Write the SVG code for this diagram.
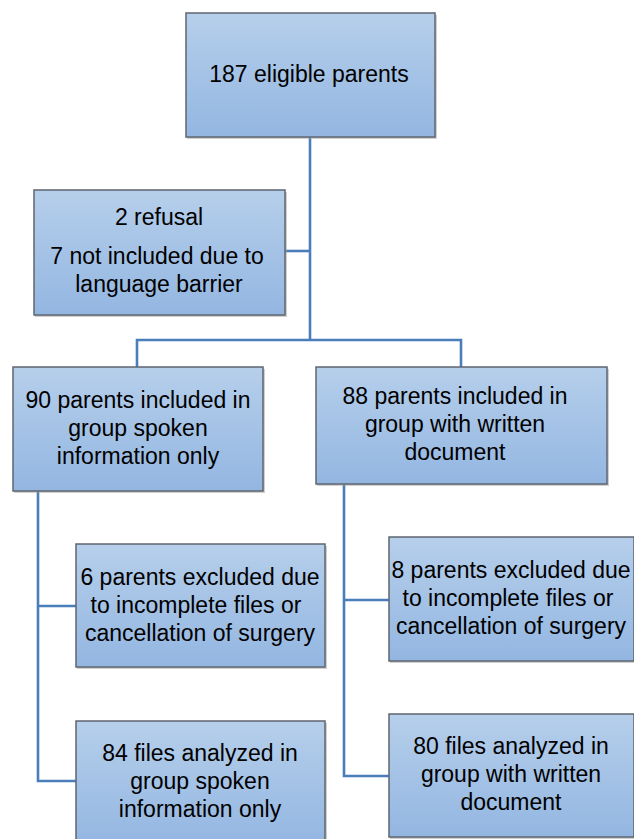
<svg xmlns="http://www.w3.org/2000/svg" width="634" height="839" viewBox="0 0 634 839">
<defs>
<linearGradient id="g" x1="0" y1="0" x2="0" y2="1">
<stop offset="0" stop-color="#b6cfeb"/>
<stop offset="1" stop-color="#93b6e1"/>
</linearGradient>
</defs>
<style>
.box{fill:url(#g);stroke:#5f6670;stroke-width:1.5}
.sh{fill:#a0a0a0;opacity:0.5}
.t{font-family:"Liberation Sans",Arial,sans-serif;font-size:23px;fill:#000;text-anchor:middle}
.c{fill:none;stroke:#4a7ebb;stroke-width:2.6}
</style>
<rect width="634" height="839" fill="#fff"/>
<g id="connectors">
<path class="c" d="M310 137 V340"/>
<path class="c" d="M285 251 H310"/>
<path class="c" d="M137 367 V340 H461 V367"/>
<path class="c" d="M38 491 V781 H76"/>
<path class="c" d="M38 606 H76"/>
<path class="c" d="M344 484 V776 H389"/>
<path class="c" d="M344 600 H389"/>
</g>
<g id="n1">
<rect class="sh" x="187" y="15" width="250" height="124"/>
<rect class="box" x="186" y="13" width="249" height="124"/>
<text class="t" x="309" y="82">187 eligible parents</text>
</g>
<g id="n2">
<rect class="sh" x="35" y="192" width="252" height="125"/>
<rect class="box" x="34" y="190" width="251" height="125"/>
<text class="t" x="159" y="225">2 refusal</text>
<text class="t" x="157" y="264">7 not included due to</text>
<text class="t" x="159" y="292">language barrier</text>
</g>
<g id="n3">
<rect class="sh" x="14" y="369" width="251" height="124"/>
<rect class="box" x="13" y="367" width="250" height="124"/>
<text class="t" x="138" y="408">90 parents included in</text>
<text class="t" x="138" y="436">group spoken</text>
<text class="t" x="138" y="464">information only</text>
</g>
<g id="n4">
<rect class="sh" x="317" y="369" width="292" height="117"/>
<rect class="box" x="316" y="367" width="291" height="117"/>
<text class="t" x="455" y="404">88 parents included in</text>
<text class="t" x="455" y="432">group with written</text>
<text class="t" x="455" y="460">document</text>
</g>
<g id="n5">
<rect class="sh" x="77" y="546" width="250" height="123"/>
<rect class="box" x="76" y="544" width="249" height="123"/>
<text class="t" x="200" y="585">6 parents excluded due</text>
<text class="t" x="196" y="613">to incomplete files or</text>
<text class="t" x="200" y="641">cancellation of surgery</text>
</g>
<g id="n6">
<rect class="sh" x="390" y="539" width="246" height="124"/>
<rect class="box" x="389" y="537" width="245" height="124"/>
<text class="t" x="511" y="578">8 parents excluded due</text>
<text class="t" x="508" y="606">to incomplete files or</text>
<text class="t" x="511" y="634">cancellation of surgery</text>
</g>
<g id="n7">
<rect class="sh" x="77" y="723" width="250" height="124"/>
<rect class="box" x="76" y="721" width="249" height="124"/>
<text class="t" x="200" y="761">84 files analyzed in</text>
<text class="t" x="200" y="789">group spoken</text>
<text class="t" x="200" y="817">information only</text>
</g>
<g id="n8">
<rect class="sh" x="390" y="716" width="246" height="123"/>
<rect class="box" x="389" y="714" width="245" height="123"/>
<text class="t" x="511" y="754">80 files analyzed in</text>
<text class="t" x="511" y="782">group with written</text>
<text class="t" x="511" y="810">document</text>
</g>
</svg>
